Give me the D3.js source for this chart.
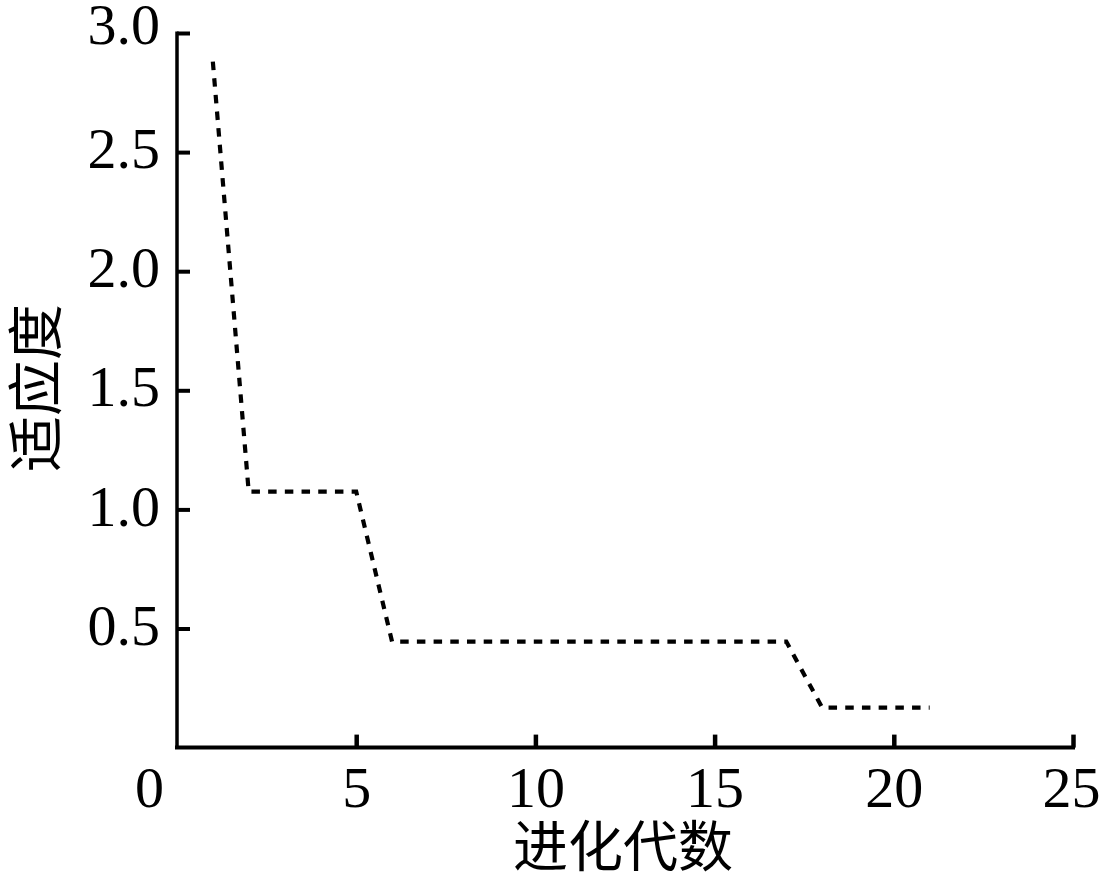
<!DOCTYPE html>
<html>
<head>
<meta charset="utf-8">
<script src="https://cdn.jsdelivr.net/npm/d3@7"></script>
<style>
  html, body { margin: 0; padding: 0; background: #fff; }
  svg { display: block; }
</style>
</head>
<body>
<svg id="chart" width="1103" height="874"></svg>
<script>
// ---- data ----
const generations = [1,2,3,4,5,6,7,8,9,10,11,12,13,14,15,16,17,18,19,20,21];
const fitness = [2.88,1.075,1.075,1.075,1.075,0.445,0.445,0.445,0.445,0.445,0.445,0.445,0.445,0.445,0.445,0.445,0.445,0.168,0.168,0.168,0.168];
const xTicks = [0,5,10,15,20,25];
const yTicks = [0.5,1.0,1.5,2.0,2.5,3.0];
const xTitle = "进化代数";
const yTitle = "适应度";

// ---- layout ----
const svg = d3.select("#chart");
const mLeft = 177, mRight = 1073, mTop = 33, mBottom = 747.6;

const x = d3.scaleLinear().domain([0, 25]).range([mLeft, mRight]);
const y = d3.scaleLinear().domain([0, 3]).range([mBottom, mTop]);

const serif = "'Liberation Serif', 'Times New Roman', serif";
const cjk = "'Noto Sans CJK SC', sans-serif";

// x axis
const xAxis = svg.append("g")
  .attr("transform", `translate(0,${mBottom})`)
  .call(d3.axisBottom(x).tickValues(xTicks).tickSize(-13).tickSizeOuter(0).tickPadding(18.5).tickFormat(d3.format("d")));
xAxis.select(".domain").attr("stroke", "#000").attr("stroke-width", 4).attr("d", `M${mLeft - 2},0H${mRight + 2}`);
xAxis.selectAll(".tick line").attr("stroke", "#000").attr("stroke-width", 4.5);
xAxis.selectAll(".tick").filter(d => d === 0).select("line").remove();
xAxis.selectAll(".tick text")
  .attr("font-family", serif).attr("font-size", 58).attr("fill", "#000");
xAxis.selectAll(".tick").filter(d => d === 0).select("text").attr("x", -28);
xAxis.selectAll(".tick").filter(d => d === 25).select("text").attr("x", -2);

// y axis
const yAxis = svg.append("g")
  .attr("transform", `translate(${mLeft},0)`)
  .call(d3.axisLeft(y).tickValues(yTicks).tickSize(-13).tickSizeOuter(0).tickPadding(17).tickFormat(d3.format(".1f")));
yAxis.select(".domain").attr("stroke", "#000").attr("stroke-width", 3.5).attr("d", `M0,${mTop - 1.5}V${mBottom}`);
yAxis.selectAll(".tick line").attr("stroke", "#000").attr("stroke-width", 4);
yAxis.selectAll(".tick text")
  .attr("font-family", serif).attr("font-size", 58).attr("fill", "#000").attr("dy", "0.27em");
yAxis.selectAll(".tick").filter(d => d === 3.0).select("text").attr("y", -5);

// line
const line = d3.line().x((d, i) => x(generations[i])).y(d => y(d));
svg.append("path")
  .datum(fitness)
  .attr("d", line)
  .attr("fill", "none")
  .attr("stroke", "#000")
  .attr("stroke-width", 4.2)
  .attr("stroke-dasharray", "8.5,8.2");

// titles
svg.append("text")
  .attr("x", (mLeft + mRight) / 2 - 2)
  .attr("y", 866)
  .attr("text-anchor", "middle")
  .attr("font-family", cjk)
  .attr("font-size", 55)
  .attr("fill", "#000")
  .text(xTitle);

svg.append("text")
  .attr("transform", `translate(31,388) rotate(-90)`)
  .attr("text-anchor", "middle")
  .attr("dominant-baseline", "central")
  .attr("font-family", cjk)
  .attr("font-size", 56)
  .attr("fill", "#000")
  .text(yTitle);
</script>
</body>
</html>
